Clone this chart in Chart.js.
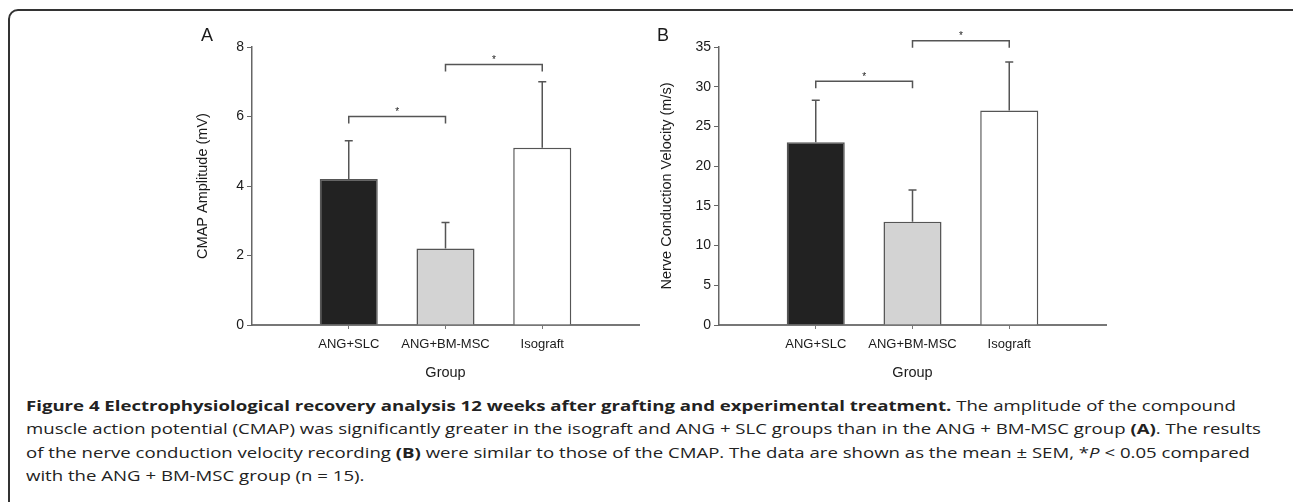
<!DOCTYPE html>
<html>
<head>
<meta charset="utf-8">
<script src="https://cdn.jsdelivr.net/npm/chart.js@4.4.1/dist/chart.umd.min.js"></script>
<style>
  body { margin: 0; background: #fff; width: 1293px; height: 502px; overflow: hidden; position: relative; font-family: "Open Sans", sans-serif; }
  .frame { position: absolute; left: 8px; top: 9px; width: 1300px; height: 600px; border: 2px solid #333; border-radius: 10px; }
  .box { position: absolute; top: 20px; width: 480px; height: 370px; }
  #caption { position: absolute; left: 26px; top: 394px; font-size: 15px; line-height: 23.3px; color: #222; white-space: nowrap; transform: scaleX(1.24); transform-origin: 0 0; }
  #caption b { font-weight: 700; }
</style>
</head>
<body>
<div class="frame"></div>
<div class="box" style="left:180px"><canvas id="chartA" width="480" height="370"></canvas></div>
<div class="box" style="left:650px"><canvas id="chartB" width="480" height="370"></canvas></div>
<div id="caption"><b>Figure 4 Electrophysiological recovery analysis 12 weeks after grafting and experimental treatment.</b> The amplitude of the compound<br>muscle action potential (CMAP) was significantly greater in the isograft and ANG + SLC groups than in the ANG + BM-MSC group <b>(A)</b>. The results<br>of the nerve conduction velocity recording <b>(B)</b> were similar to those of the CMAP. The data are shown as the mean ± SEM, *<i>P</i> &lt; 0.05 compared<br>with the ANG + BM-MSC group (n = 15).</div>

<script>
// groups and values
const groups = ['ANG+SLC', 'ANG+BM-MSC', 'Isograft'];
const barColors = ['#222222', '#d3d3d3', '#ffffff'];

const cmapMean = [4.2, 2.2, 5.1];
const cmapSem = [1.1, 0.75, 1.9];
const cmapBrackets = [[0, 1, 6.0], [1, 2, 7.5]];

const ncvMean = [23, 13, 27];
const ncvSem = [5.3, 4.0, 6.1];
const ncvBrackets = [[0, 1, 30.7], [1, 2, 35.8]];

const ink = '#555';
const textColor = '#1a1a1a';
const font = 'Liberation Sans';

// error bars (upper only), significance brackets and panel letter
const extras = {
  id: 'extras',
  afterDatasetsDraw(chart, args, opts) {
    const ctx = chart.ctx;
    const meta = chart.getDatasetMeta(0);
    const yScale = chart.scales.y;
    const ds = chart.data.datasets[0];
    ctx.save();
    ctx.strokeStyle = ink;
    ctx.lineWidth = 1.5;
    meta.data.forEach((bar, i) => {
      const top = yScale.getPixelForValue(ds.data[i].y + opts.sem[i]);
      ctx.beginPath();
      ctx.moveTo(bar.x, bar.y);
      ctx.lineTo(bar.x, top);
      ctx.moveTo(bar.x - 4, top);
      ctx.lineTo(bar.x + 4, top);
      ctx.stroke();
    });
    ctx.fillStyle = textColor;
    ctx.textAlign = 'center';
    ctx.textBaseline = 'middle';
    opts.brackets.forEach(([a, b, level]) => {
      const x1 = meta.data[a].x, x2 = meta.data[b].x;
      const y = yScale.getPixelForValue(level);
      ctx.beginPath();
      ctx.moveTo(x1, y + 7);
      ctx.lineTo(x1, y);
      ctx.lineTo(x2, y);
      ctx.lineTo(x2, y + 7);
      ctx.stroke();
      ctx.font = '10px ' + font;
      ctx.fillText('*', (x1 + x2) / 2, y - 4);
    });
    ctx.font = '18px ' + font;
    ctx.fillText(opts.letter, chart.chartArea.left + opts.letterDx, chart.chartArea.top - 11);
    ctx.restore();
  }
};

function makeChart(id, means, sem, brackets, yMax, yStep, yTitle, letter, letterDx, padRight, yWidth, titlePad) {
  new Chart(document.getElementById(id), {
    type: 'bar',
    data: {
      datasets: [{
        data: means.map((v, i) => ({ x: i + 1, y: v })),
        backgroundColor: barColors,
        borderColor: ink,
        borderWidth: 1.5,
        barPercentage: 0.6,
        categoryPercentage: 1
      }]
    },
    options: {
      responsive: false,
      animation: false,
      layout: { padding: { top: 27, right: padRight, left: 0, bottom: 0 } },
      plugins: {
        legend: { display: false },
        tooltip: { enabled: false },
        extras: { sem: sem, brackets: brackets, letter: letter, letterDx: letterDx }
      },
      scales: {
        x: {
          type: 'linear',
          min: 0,
          max: 4,
          offset: false,
          afterBuildTicks: s => { s.ticks = groups.map((g, i) => ({ value: i + 1 })); },
          afterFit: s => { s.height = 65; },
          ticks: {
            callback: v => groups[v - 1],
            color: textColor,
            font: { family: font, size: 13 },
            padding: 8,
            maxRotation: 0,
            autoSkip: false
          },
          grid: { offset: false, drawOnChartArea: false, tickLength: 4, color: '#777' },
          border: { color: '#777', width: 2 },
          title: { display: true, text: 'Group', color: textColor, font: { family: font, size: 14.5 }, padding: { top: 0, bottom: 8 } }
        },
        y: {
          min: 0,
          max: yMax,
          afterFit: s => { s.width = yWidth; },
          ticks: { stepSize: yStep, color: textColor, font: { family: font, size: 14 }, padding: 3 },
          grid: { drawOnChartArea: false, tickLength: 5, color: '#666' },
          border: { color: '#666', width: 1.5 },
          title: { display: true, text: yTitle, color: textColor, font: { family: font, size: 14.5 }, padding: { top: titlePad, bottom: 0 } }
        }
      }
    },
    plugins: [extras]
  });
}

makeChart('chartA', cmapMean, cmapSem, cmapBrackets, 8, 2, 'CMAP Amplitude (mV)', 'A', -45, 21, 72, 14);
makeChart('chartB', ncvMean, ncvSem, ncvBrackets, 35, 5, 'Nerve Conduction Velocity (m/s)', 'B', -56, 24, 69, 8);
</script>
</body>
</html>
